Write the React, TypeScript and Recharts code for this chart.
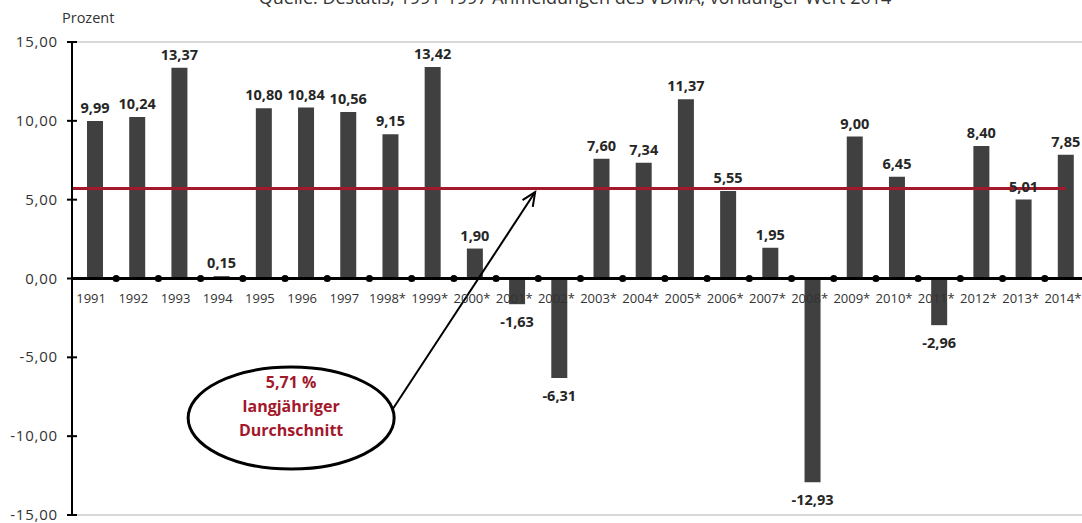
import React from "react";
import {
	BarChart,
	Bar,
	XAxis,
	YAxis,
	ReferenceLine,
	ReferenceDot,
	LabelList,
} from "recharts";

const years = [
	"1991", "1992", "1993", "1994", "1995", "1996", "1997", "1998",
	"1999", "2000", "2001", "2002", "2003", "2004", "2005", "2006",
	"2007", "2008", "2009", "2010", "2011", "2012", "2013", "2014",
];

// Veränderung in Prozent gegenüber Vorjahr
const values = [
	9.99, 10.24, 13.37, 0.15, 10.8, 10.84, 10.56, 9.15,
	13.42, 1.9, -1.63, -6.31, 7.6, 7.34, 11.37, 5.55,
	1.95, -12.93, 9.0, 6.45, -2.96, 8.4, 5.01, 7.85,
];

// ab 1998 mit Sternchen gekennzeichnet
const starredFrom = 1998;

const average = 5.71;
const yTicks = [-15, -10, -5, 0, 5, 10, 15];
const noteLines = ["5,71 %", "langjähriger", "Durchschnitt"];

const title =
	"Quelle: Destatis, 1991-1997 Anmeldungen des VDMA, vorläufiger Wert 2014";

const data = years.map((year, i) => ({ year, value: values[i] }));

const W = 1100;
const H = 523;
const X_H = 1;
const M = { top: 42, right: 13, bottom: 7, left: 0 };
const Y_W = 72;
const PAD_L = 2;
const PLOT_H = H - M.top - M.bottom - X_H;
const BAND = (W - M.left - M.right - Y_W - PAD_L) / years.length;

const fmt = (v: number) => v.toFixed(2).replace(".", ",");

const XTick = (props: any) => {
	const { x, y, payload } = props;
	const zeroY = y - PLOT_H / 2;
	const star = Number(payload.value) >= starredFrom ? "*" : "";
	return (
		<g>
			<circle cx={x + BAND / 2} cy={zeroY} r={3.6} fill="#000" />
			<text
				x={x - 4 + (star ? 1 : 0)}
				y={zeroY + 24}
				textAnchor="middle"
				fontSize={13}
				fill="#333"
			>
				{payload.value + star}
			</text>
		</g>
	);
};

const YTick = (props: any) => {
	const { x, y, payload } = props;
	const axisX = x + 9;
	return (
		<g>
			<line x1={axisX - 5} x2={axisX + 5} y1={y} y2={y} stroke="#000" strokeWidth={2} />
			<text
				x={x - 5}
				y={y + 5}
				textAnchor="end"
				fontSize={15}
				letterSpacing={0.8}
				fill="#333"
			>
				{fmt(payload.value)}
			</text>
		</g>
	);
};

const BarValue = (props: any) => {
	const { x, y, width, height, value } = props;
	const cx = Number(x) + Number(width) / 2;
	const y1 = Number(y);
	const y2 = Number(y) + Number(height);
	const top = Math.min(y1, y2);
	const bottom = Math.max(y1, y2);
	const ty = value >= 0 ? top - 8 : bottom + 23;
	return (
		<text
			x={cx}
			y={ty}
			textAnchor="middle"
			fontSize={14.5}
			fontWeight="bold"
			fill="#262626"
		>
			{fmt(Number(value))}
		</text>
	);
};

const AverageLine = (props: any) => {
	const { x1, y1, x2, y2 } = props;
	return (
		<line
			x1={x1}
			y1={y1}
			x2={x2 - BAND / 2}
			y2={y2}
			stroke="#a3182b"
			strokeWidth={3}
		/>
	);
};

const Note = (props: any) => {
	const { cx, cy } = props;
	const ex = cx - 15;
	const sx = cx + 86;
	const sy = cy - 8;
	const tx = cx + 229;
	const ty = cy - 226;
	const ang = Math.atan2(ty - sy, tx - sx);
	const head = 15;
	const spread = 0.42;
	const h1x = tx - head * Math.cos(ang - spread);
	const h1y = ty - head * Math.sin(ang - spread);
	const h2x = tx - head * Math.cos(ang + spread);
	const h2y = ty - head * Math.sin(ang + spread);
	return (
		<g>
			<ellipse cx={ex} cy={cy} rx={103} ry={51} fill="#fff" stroke="#000" strokeWidth={3} />
			{noteLines.map((t, i) => (
				<text
					key={t}
					x={ex}
					y={cy - 30 + i * 24}
					textAnchor="middle"
					fontSize={16}
					fontWeight="bold"
					fill="#a3182b"
				>
					{t}
				</text>
			))}
			<line x1={sx} y1={sy} x2={tx} y2={ty} stroke="#000" strokeWidth={2} />
			<polyline
				points={`${h1x},${h1y} ${tx},${ty} ${h2x},${h2y}`}
				fill="none"
				stroke="#000"
				strokeWidth={2}
			/>
		</g>
	);
};

export default function App() {
	return (
		<div
			style={{
				position: "absolute",
				left: 0,
				top: 0,
				width: 1082,
				height: 523,
				overflow: "hidden",
				background: "#fff",
				fontFamily: "'Open Sans', 'Noto Sans', sans-serif",
			}}
		>
			<div
				style={{
					position: "absolute",
					left: 0,
					top: -15,
					width: 1150,
					textAlign: "center",
					fontSize: 18,
					color: "#333",
					whiteSpace: "nowrap",
				}}
			>
				{title}
			</div>
			<div
				style={{
					position: "absolute",
					left: 62,
					top: 8,
					fontSize: 14.5,
					color: "#333",
				}}
			>
				Prozent
			</div>
			<BarChart width={W} height={H} data={data} margin={M}>
				<XAxis
					dataKey="year"
					height={X_H}
					axisLine={false}
					tickLine={false}
					tickSize={0}
					tickMargin={0}
					interval={0}
					padding={{ left: PAD_L, right: 0 }}
					tick={<XTick />}
				/>
				<YAxis
					width={Y_W}
					domain={[-15, 15]}
					ticks={yTicks}
					interval={0}
					axisLine={{ stroke: "#000", strokeWidth: 2 }}
					tickLine={false}
					tickSize={5}
					tickMargin={4}
					tick={<YTick />}
				/>
				<ReferenceLine y={15} stroke="#d9d9d9" strokeWidth={2} />
				<ReferenceLine y={-15} stroke="#d9d9d9" strokeWidth={2} />
				<Bar dataKey="value" fill="#404040" barSize={16} isAnimationActive={false}>
					<LabelList dataKey="value" content={<BarValue />} />
				</Bar>
				<ReferenceLine y={0} stroke="#000" strokeWidth={3} />
				<ReferenceLine y={average} shape={<AverageLine />} />
				<ReferenceDot
					x="1996"
					y={-8.85}
					r={0}
					ifOverflow="visible"
					shape={<Note />}
				/>
			</BarChart>
		</div>
	);
}
